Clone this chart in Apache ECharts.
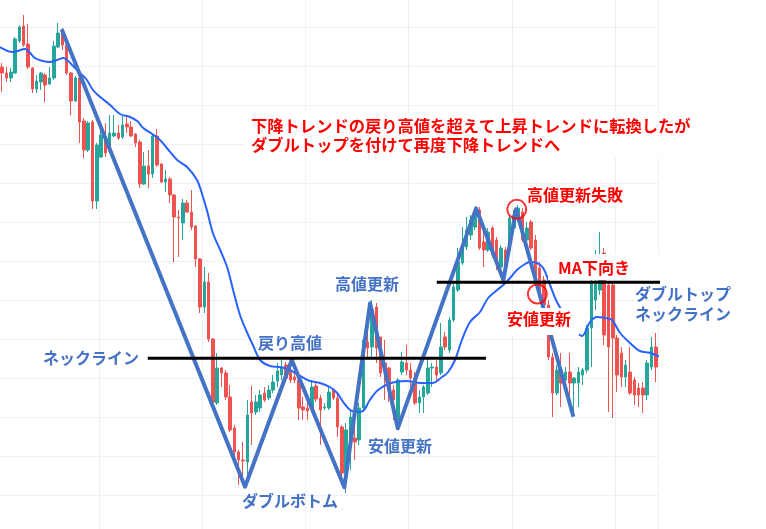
<!DOCTYPE html>
<html><head><meta charset="utf-8">
<script src="https://cdn.jsdelivr.net/npm/echarts@6/dist/echarts.min.js"></script>
<style>html,body{margin:0;padding:0;background:#fff}#c{width:766px;height:529px}</style>
</head><body><div id="c"></div>
<script>
// Candle values (price units)
const opens = [467,461,456,461,493,508,490,466,445,452,459,450,456,487,503,489,461,433,456,413,384,412,333,377,394,384,398,401,397,410,407,400,392,350,368,360,398,370,352,355,339,317,311,331,322,308,275,227,252,195,131,166,161,137,106,82,74,72,132,122,126,141,136,144,153,159,169,162,157,154,127,126,126,148,136,126,126,144,136,107,61,89,96,94,126,192,187,227,197,171,166,144,114,162,171,164,156,131,137,141,166,167,161,197,184,214,244,271,287,299,307,324,292,284,306,294,267,284,284,306,316,322,294,312,294,266,254,229,177,141,164,154,162,151,151,159,164,206,234,244,281,249,249,196,181,157,162,154,146,146,139,167,187];
const closes = [461,456,462,495,507,489,467,445,453,461,449,456,488,501,489,461,433,456,412,384,411,333,389,399,381,401,401,396,409,407,398,391,350,368,360,398,369,352,355,339,317,316,331,322,307,275,227,252,195,132,166,161,137,104,82,74,73,119,121,132,139,134,144,152,163,167,156,154,154,126,124,123,147,135,124,127,142,136,107,61,104,117,92,126,194,186,224,186,161,164,144,134,154,172,164,156,131,137,147,166,167,159,187,187,214,247,272,289,304,314,321,286,284,302,279,272,286,267,316,319,326,294,306,286,254,241,229,177,141,164,151,162,151,156,162,164,206,252,250,279,199,187,196,159,157,169,141,139,139,139,171,187,167];
const lows = [442,452,452,460,491,487,465,441,441,444,432,449,454,486,484,459,419,432,391,376,382,325,325,376,377,382,397,394,395,401,397,387,346,349,346,356,367,351,342,331,272,277,294,321,304,267,221,221,192,124,129,147,134,102,74,49,52,59,89,119,122,132,134,141,147,154,154,151,151,114,114,114,124,132,89,124,124,134,97,56,41,64,74,89,124,177,177,171,157,134,132,114,104,159,159,147,129,121,121,139,147,154,159,184,181,212,242,269,284,294,304,284,267,282,276,264,264,262,282,302,312,292,289,284,251,234,224,174,117,139,127,149,131,121,127,149,161,167,224,239,189,122,116,142,147,147,139,129,127,121,134,164,152];
const highs = [471,467,466,497,509,519,510,467,459,462,461,467,493,511,506,494,462,458,457,416,413,414,391,404,411,419,419,409,418,417,413,401,394,382,384,401,405,371,364,357,340,324,335,334,344,309,276,267,261,196,181,167,164,149,109,84,92,134,148,139,144,147,149,159,171,174,172,174,162,157,137,136,154,151,139,131,147,146,141,109,111,124,109,131,196,204,234,231,197,194,167,149,156,182,189,171,162,144,149,176,171,174,211,202,217,252,286,307,317,319,326,327,304,306,308,297,289,287,319,324,329,326,312,314,299,272,258,234,181,169,181,167,181,157,167,166,209,254,284,302,286,251,251,199,187,174,187,157,151,152,174,197,201];

// Moving average line: [candle position, price]
const maLine = [[-0.5,487],[2.5,482],[5.3,485],[7.6,476],[9.5,473],[11.1,472],[12.8,474],[14.2,476],[15.1,474],[16.5,468],[18.1,461],[19.7,454],[21.1,444],[22.8,437],[25.1,429],[27.4,420],[29.7,417],[31.4,413],[32.8,406],[34.9,400],[36.7,394],[38.3,386],[40.7,374],[43.0,367],[45.3,354],[46.7,337],[47.6,324],[49.0,301],[50.7,284],[52.3,267],[53.7,244],[55.3,219],[56.9,202],[58.3,189],[60.0,174],[62.3,168],[64.6,167],[66.9,164],[69.3,158],[71.6,153],[73.9,151],[76.2,147],[77.9,141],[79.3,132],[80.9,124],[82.5,122],[83.9,123],[85.5,134],[87.4,144],[90.4,151],[93.9,153],[97.4,151],[100,151],[102.3,157],[103.7,162],[105.3,174],[106.9,194],[108.8,212],[111.1,222],[113,236],[115.1,244],[116.5,249],[118.1,256],[119.7,264],[121.6,270],[122.8,272],[124.4,271],[125.8,266],[127.4,249],[129,232],[131.3,216],[133.2,204],[134.8,198],[136.7,212],[138.3,217],[140.2,216],[141.8,214],[143.7,201],[146,191],[148.3,183],[150.7,181],[153,177]];

// Hand-drawn trend zigzag
const zigzag = [[13.85,504.7],[56.48,47.3],[67.34,174],[79.57,46.7],[85.55,230.7],[91.99,105.7],[110.2,325.7],[116.55,254],[119.5,324.7],[132.83,117.3]];
// Neck lines
const neckLine1 = [[33.85,175.7],[112.5,175.7]];
const neckLine2 = [[101.06,251.7],[158.03,251.7]];
// Red circles
const circles = [[119.66,324.7],[124.45,240]];

const categories = opens.map((_, i) => String(i + 1));
const candleData = opens.map((o, i) => [o, closes[i], lows[i], highs[i]]);

const BLUE = '#4472c4', RED = '#ff0000';
const FONT = '"Noto Sans CJK JP", sans-serif';
function label(text, x, y, color) {
  return {type:'text', x:x, y:y, z:101, style:{text:text, fill:color, font:'bold 16px ' + FONT,
    align:'left', verticalAlign:'middle', textAlign:'left', textVerticalAlign:'middle'}};
}

const chart = echarts.init(document.getElementById('c'));
chart.setOption({
  animation: false,
  backgroundColor: '#ffffff',
  textStyle: {fontFamily: FONT},
  grid: [
    {left: 0, right: 108, top: 27, bottom: 34},
    {left: 0, right: 108, top: 0, bottom: 0}
  ],
  xAxis: [
    {type:'category', gridIndex:0, data:categories, boundaryGap:true,
     axisLine:{show:false}, axisTick:{show:false}, axisLabel:{show:false}, splitLine:{show:false}},
    {type:'value', gridIndex:0, min:-0.5, max:opens.length - 0.5, show:false},
    {type:'category', gridIndex:1, data:categories, boundaryGap:true,
     axisLine:{show:false}, axisTick:{show:false}, axisLabel:{show:false},
     splitLine:{show:true, interval:function(i){ return i % 24 === 23; }, lineStyle:{color:'#eef0f3', width:1}}}
  ],
  yAxis: [
    {type:'value', gridIndex:0, min:39, max:507, interval:39,
     axisLine:{show:false}, axisTick:{show:false}, axisLabel:{show:false},
     splitLine:{show:true, lineStyle:{color:'#eef0f3', width:1}}},
    {type:'value', gridIndex:1, min:0, max:1, show:false, splitLine:{show:false}}
  ],
  series: [
    {type:'candlestick', xAxisIndex:0, yAxisIndex:0, data:candleData, barWidth:3, clip:false, z:2,
     itemStyle:{color:'#26a69a', color0:'#ef5350', borderColor:'#26a69a', borderColor0:'#ef5350', borderWidth:1}},
    {type:'line', xAxisIndex:1, yAxisIndex:0, data:maLine, smooth:0.35, symbol:'none', clip:false, z:3,
     lineStyle:{color:'#2962ff', width:2}},
    {type:'line', xAxisIndex:1, yAxisIndex:0, data:zigzag, symbol:'none', clip:false, z:4,
     lineStyle:{color:BLUE, width:4, join:'round'}},
    {type:'line', xAxisIndex:1, yAxisIndex:0, data:neckLine1, symbol:'none', clip:false, z:5,
     lineStyle:{color:'#000', width:3}},
    {type:'line', xAxisIndex:1, yAxisIndex:0, data:neckLine2, symbol:'none', clip:false, z:5,
     lineStyle:{color:'#000', width:3}},
    {type:'scatter', xAxisIndex:1, yAxisIndex:0, data:circles, symbol:'circle', symbolSize:19, clip:false, z:6,
     itemStyle:{color:'rgba(0,0,0,0)', borderColor:RED, borderWidth:2}}
  ],
  graphic: [
    {type:'rect', z:100, shape:{x:245, y:113, width:455, height:44}, style:{fill:'#fff'}},
    {type:'rect', z:100, shape:{x:548, y:254, width:120, height:26}, style:{fill:'#fff'}},
    {type:'rect', z:100, shape:{x:503, y:308, width:76, height:27}, style:{fill:'#fff'}},
    {type:'text', x:251, y:116, z:101, style:{text:'下降トレンドの戻り高値を超えて上昇トレンドに転換したが\nダブルトップを付けて再度下降トレンドへ',
      fill:RED, font:'bold 16.3px ' + FONT, lineHeight:19.5, align:'left', verticalAlign:'top', textAlign:'left', textVerticalAlign:'top'}},
    label('ネックライン', 43, 358, BLUE),
    label('戻り高値', 258, 342.5, BLUE),
    label('ダブルボトム', 242, 500.5, BLUE),
    label('高値更新', 335, 284, BLUE),
    label('安値更新', 368, 445.5, BLUE),
    label('高値更新失敗', 527, 195, RED),
    label('MA下向き', 558, 267.5, RED),
    label('安値更新', 507, 319, RED),
    label('ダブルトップ', 635, 294, BLUE),
    label('ネックライン', 635, 314, BLUE)
  ]
});
</script></body></html>
